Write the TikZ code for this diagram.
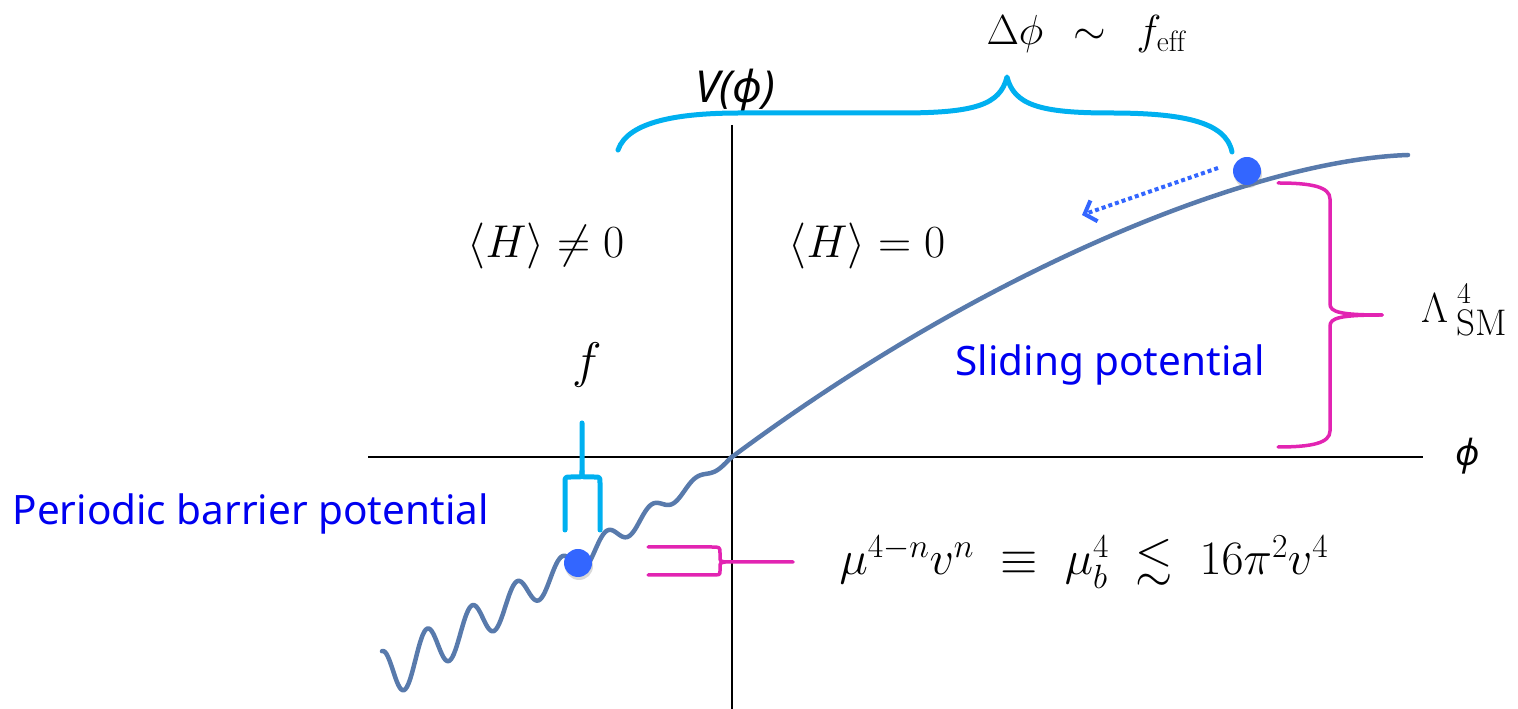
\RequirePackage{fix-cm}
\documentclass[tikz,border=0pt]{standalone}
\usepackage{amsmath}
\usepackage{amssymb}
\usepackage{fontspec}
\setsansfont{Noto Sans}
\usepackage{tikz}
\usetikzlibrary{arrows.meta, shadows}
\usepackage{xcolor}

\definecolor{curveblue}{RGB}{88,122,172}
\definecolor{bracecyan}{RGB}{0,176,240}
\definecolor{bracemag}{RGB}{226,36,178}
\definecolor{dotblue}{RGB}{51,102,255}
\definecolor{textblue}{RGB}{0,0,240}

\begin{document}
\begin{tikzpicture}[x=1pt, y=1pt,
  axis/.style={line width=1.1pt},
  potential/.style={line width=4.5pt, curveblue, line cap=round, line join=round},
  cyanbrace/.style={line width=5pt, bracecyan, line cap=round, line join=round},
  pinkbrace/.style={line width=3.5pt, bracemag, line cap=round, line join=round},
  ball/.style={circle, fill=dotblue, minimum size=28pt, inner sep=0pt,
    drop shadow={opacity=0.3, shadow xshift=1pt, shadow yshift=-3pt}},
  slide/.style={line width=4pt, dotblue, dash pattern=on 4pt off 3pt,
    -{Straight Barb[length=10pt, width=22pt, line width=4pt]}},
  math/.style={font=\fontsize{46}{52}\selectfont},
  blurb/.style={text=textblue, font=\sffamily\fontsize{40.5}{46}\selectfont}
]
  \useasboundingbox (0,0) rectangle (1518,709);

  % Axes
  \coordinate (O) at (732,252);
  \coordinate (xl) at (368,252);
  \coordinate (xr) at (1423,252);
  \coordinate (yt) at (732,584);
  \coordinate (yb) at (732,0);
  \draw[axis] (xl) -- (xr);
  \draw[axis] (yt) -- (yb);
  \node[font=\sffamily\itshape\fontsize{36}{40}\selectfont] (philab) at (1468,253) {ϕ};
  \node[font=\sffamily\itshape\fontsize{44}{48}\selectfont, anchor=base] (Vlab) at (735,606) {V(ϕ)};

  % Potential: periodic barrier part, then sliding part
  \draw[potential] plot[domain=0:350, samples=240, smooth]
    ({732-\x}, {252 - 0.7*\x + 0.0002*\x*\x + (2+0.07*\x)*sin(8*(\x-305)+90)});
  \draw[potential] (O) .. controls (990,444) and (1258,549) .. (1408,554);

  % Top brace over the field range
  \coordinate (tl) at (618,559);
  \coordinate (tip) at (1007,632);
  \coordinate (tr) at (1232,557);
  \draw[cyanbrace] (tl) .. controls (628,588) and (680,596) .. (740,596) -- (900,596)
    .. controls (975,596) and (1000,604) .. (tip)
    .. controls (1014,604) and (1040,596) .. (1110,596)
    .. controls (1180,596) and (1226,588) .. (tr);
  \node[math, font=\fontsize{42}{48}\selectfont, anchor=base west] (dphi) at (983,664)
    {$\Delta\phi\;\,\sim\;\, f_{\mathrm{eff}}$};

  % Brace for the period f
  \coordinate (fl) at (565,179);
  \coordinate (fr) at (600,179);
  \coordinate (fs) at (582,286);
  \draw[cyanbrace] (fl) -- (565,226) .. controls (565,232) .. (571,232) -- (577,232)
    .. controls (582,232) .. (582,238) -- (fs);
  \draw[cyanbrace] (fr) -- (600,226) .. controls (600,232) .. (594,232) -- (587,232)
    .. controls (582,232) .. (582,238);
  \node[math, font=\fontsize{50}{54}\selectfont, anchor=base] (flab) at (587,331) {$f$};

  % Brace for the barrier height
  \coordinate (bt) at (648,162);
  \coordinate (bb) at (648,134);
  \coordinate (bend) at (793,147);
  \draw[pinkbrace] (bt) -- (711,162) .. controls (720,162) .. (720,156) -- (720,152)
    .. controls (720,148) .. (725,147) -- (bend);
  \draw[pinkbrace] (bb) -- (711,134) .. controls (720,134) .. (720,138) -- (720,142)
    .. controls (720,146) .. (725,147);
  \node[math, font=\fontsize{48}{54}\selectfont, anchor=base west] (mub) at (836,134)
    {$\mu^{4-n}v^n \;\equiv\; \mu_b^4 \;\lesssim\; 16\pi^2v^4$};

  % Brace for the slope height
  \coordinate (st) at (1278,526);
  \coordinate (sb) at (1278,262);
  \coordinate (stip) at (1382,394);
  \draw[pinkbrace] (st) .. controls (1312,526) and (1330,522) .. (1330,510) -- (1330,405)
    .. controls (1330,397) and (1340,394) .. (stip);
  \draw[pinkbrace] (sb) .. controls (1312,262) and (1330,266) .. (1330,278) -- (1330,383)
    .. controls (1330,391) and (1340,394) .. (stip);
  \node[math, font=\fontsize{42}{46}\selectfont, anchor=base west, inner sep=0pt] (lam) at (1421,386)
    {$\Lambda$};
  \node[font=\fontsize{30}{32}\selectfont, anchor=base west, inner sep=0pt] (lamsup) at (1457,405) {4};
  \node[font=\fontsize{37}{40}\selectfont, anchor=base west, inner sep=0pt] (lamsub) at (1456,373) {SM};

  % Regions
  \node[math, anchor=base] (hne) at (546,451) {$\langle H\rangle \neq 0$};
  \node[math, anchor=base] (heq) at (867,451) {$\langle H\rangle = 0$};

  % Balls and rolling arrow
  \node[ball] (ball1) at (1247,538) {};
  \node[ball] (ball2) at (578,146) {};
  \coordinate (rollfrom) at (1218,541);
  \coordinate (rollto) at (1082,494);
  \draw[slide] (rollfrom) -- (rollto);

  % Blue labels
  \node[blurb, anchor=base west] (periodic) at (9,184) {Periodic barrier potential};
  \node[blurb, anchor=base west] (sliding) at (952,333) {Sliding potential};
\end{tikzpicture}
\end{document}
